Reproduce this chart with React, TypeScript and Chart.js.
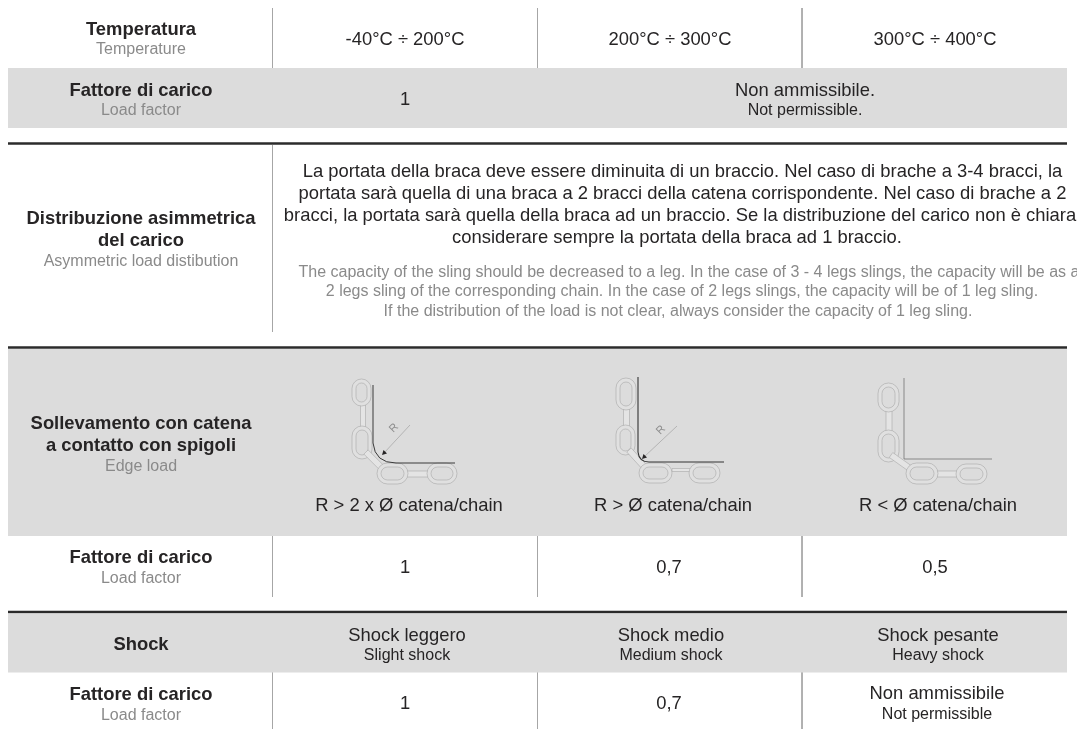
import React, { useEffect, useRef } from "react";
import { Chart, registerables } from "chart.js";

Chart.register(...registerables);

// ---- table content ----
const rowHeads = [
  ["Temperatura", "Temperature"],
  ["Fattore di carico", "Load factor"],
  ["Distribuzione asimmetrica", "del carico", "Asymmetric load distibution"],
  ["Sollevamento con catena", "a contatto con spigoli", "Edge load"],
  ["Fattore di carico", "Load factor"],
  ["Shock"],
  ["Fattore di carico", "Load factor"],
];
const temperatures = ["-40°C ÷ 200°C", "200°C ÷ 300°C", "300°C ÷ 400°C"];
const tempFactor = "1";
const notPermissibleIt = "Non ammissibile.";
const notPermissibleEn = "Not permissible.";
const asymIt = [
  "La portata della braca deve essere diminuita di un braccio. Nel caso di brache a 3-4 bracci, la",
  "portata sarà quella di una braca a 2 bracci della catena corrispondente. Nel caso di brache a 2",
  "bracci, la portata sarà quella della braca ad un braccio. Se la distribuzione del carico non è chiara",
  "considerare sempre la portata della braca ad 1 braccio.",
];
const asymEn = [
  "The capacity of the sling should be decreased to a leg. In the case of 3 - 4 legs slings, the capacity will be as a",
  "2 legs sling of the corresponding chain. In the case of 2 legs slings, the capacity will be of 1 leg sling.",
  "If the distribution of the load is not clear, always consider the capacity of 1 leg sling.",
];
const edgeLabels = ["R > 2 x Ø catena/chain", "R > Ø catena/chain", "R < Ø catena/chain"];
const edgeFactors = ["1", "0,7", "0,5"];
const shockIt = ["Shock leggero", "Shock medio", "Shock pesante"];
const shockEn = ["Slight shock", "Medium shock", "Heavy shock"];
const shockFactors = ["1", "0,7"];
const shockLast = ["Non ammissibile", "Not permissible"];

// ---- layout, in table units ----
const L = 8, R = 1067;
const bands: [number, number][] = [[68, 128], [349, 536], [614, 672.5]];
const heavyRules = [143.5, 347.5, 612];
const vRules: [number, number, number][] = [
  [272.5, 8, 128], [537.5, 8, 128], [802, 8, 68],
  [272.5, 145, 332],
  [272.5, 349, 597], [537.5, 349, 597], [802, 349, 597],
  [272.5, 614, 729], [537.5, 614, 729], [802, 614, 729],
];

const BLACK = "#262425", GRAY = "#8a8a8a", BAND = "#dcdcdc", VLINE = "#a6a6a6";
const FONT = '"Liberation Sans", Arial, sans-serif';
const MAIN = 18.4, SUB = 16;

const seg = (pts: number[][], color: string, width: number, fillTo?: number) => ({
  data: pts.map(([x, y]) => ({ x, y })),
  borderColor: color,
  borderWidth: width,
  backgroundColor: color,
  pointRadius: 0,
  showLine: true,
  fill: fillTo === undefined ? false : { value: fillTo },
});

const tablePlugin = {
  id: "tablePlugin",
  afterDatasetsDraw(chart: any) {
    const c: CanvasRenderingContext2D = chart.ctx;
    const X = (v: number) => chart.scales.x.getPixelForValue(v);
    const Y = (v: number) => chart.scales.y.getPixelForValue(v);
    const text = (s: string, x: number, y: number, size: number, color: string, bold = false) => {
      c.font = `${bold ? "bold " : ""}${size}px ${FONT}`;
      c.fillStyle = color;
      c.textAlign = "center";
      c.textBaseline = "alphabetic";
      c.fillText(s, X(x), Y(y));
    };
    const head = (lines: string[], ys: number[]) => {
      lines.forEach((s, i) => {
        const sub = i === lines.length - 1 && lines.length > 1;
        text(s, 141, ys[i], sub ? SUB : MAIN, sub ? GRAY : BLACK, !sub);
      });
    };
    c.save();

    head(rowHeads[0], [35, 54]);
    head(rowHeads[1], [96, 115]);
    head(rowHeads[2], [224, 246, 266]);
    head(rowHeads[3], [429, 451, 471]);
    head(rowHeads[4], [563, 583]);
    text(rowHeads[5][0], 141, 650, MAIN, BLACK, true);
    head(rowHeads[6], [700, 720]);

    const cx = [405, 670, 935];
    temperatures.forEach((s, i) => text(s, cx[i], 45, MAIN, BLACK));
    text(tempFactor, 405, 105, MAIN, BLACK);
    text(notPermissibleIt, 805, 96, MAIN, BLACK);
    text(notPermissibleEn, 805, 115, SUB, BLACK);

    const itX = [682.5, 682.5, 680, 677];
    [177, 199, 221, 243].forEach((y, i) => text(asymIt[i], itX[i], y, MAIN, BLACK));
    const enX = [689, 682, 678];
    [277, 296, 316].forEach((y, i) => text(asymEn[i], enX[i], y, SUB, GRAY));

    const edgeX = [409, 673, 938];
    edgeLabels.forEach((s, i) => text(s, edgeX[i], 511, MAIN, BLACK));
    [405, 669, 935].forEach((x, i) => text(edgeFactors[i], x, 573, MAIN, BLACK));
    const shockX = [407, 671, 938];
    shockIt.forEach((s, i) => text(s, shockX[i], 641, MAIN, BLACK));
    shockEn.forEach((s, i) => text(s, shockX[i], 660, SUB, BLACK));
    shockFactors.forEach((s, i) => text(s, [405, 669][i], 709, MAIN, BLACK));
    text(shockLast[0], 937, 699, MAIN, BLACK);
    text(shockLast[1], 937, 719, SUB, BLACK);

    // chain icons
    const OUT = "#a8a8a8";
    const link = (x0: number, y0: number, x1: number, y1: number) => {
      const w = x1 - x0, h = y1 - y0;
      const r = Math.min(w, h) / 2;
      c.fillStyle = "#e0e0e0";
      c.strokeStyle = OUT;
      c.lineWidth = 0.6;
      c.beginPath();
      c.roundRect(X(x0), Y(y0), w, h, r);
      c.fill();
      c.stroke();
      const g = 4;
      c.fillStyle = BAND;
      c.beginPath();
      c.roundRect(X(x0 + g), Y(y0 + g), w - 2 * g, h - 2 * g, Math.max(r - g, 1));
      c.fill();
      c.stroke();
    };
    const bar = (x0: number, y0: number, x1: number, y1: number, w: number) => {
      const a = Math.atan2(y1 - y0, x1 - x0);
      const nx = (Math.sin(a) * w) / 2, ny = (-Math.cos(a) * w) / 2;
      c.fillStyle = "#e4e4e4";
      c.strokeStyle = OUT;
      c.lineWidth = 0.6;
      c.beginPath();
      c.moveTo(X(x0 + nx), Y(y0 + ny));
      c.lineTo(X(x1 + nx), Y(y1 + ny));
      c.lineTo(X(x1 - nx), Y(y1 - ny));
      c.lineTo(X(x0 - nx), Y(y0 - ny));
      c.closePath();
      c.fill();
      c.stroke();
    };
    const stroke = (pts: (c: CanvasRenderingContext2D) => void, w: number, col: string) => {
      c.strokeStyle = col;
      c.lineWidth = w;
      c.beginPath();
      pts(c);
      c.stroke();
    };
    const radiusMark = (x1: number, y1: number, x2: number, y2: number, rx: number, ry: number) => {
      stroke((k) => {
        k.moveTo(X(x1), Y(y1));
        k.lineTo(X(x2), Y(y2));
      }, 0.5, "#8a8a8a");
      c.fillStyle = BLACK;
      c.beginPath();
      c.moveTo(X(x2 - 2), Y(y2 + 2));
      c.lineTo(X(x2 + 3), Y(y2 + 0.5));
      c.lineTo(X(x2 - 0.5), Y(y2 - 3));
      c.closePath();
      c.fill();
      c.save();
      c.translate(X(rx), Y(ry));
      c.rotate(-Math.PI / 4);
      c.font = `11px ${FONT}`;
      c.fillStyle = "#8e8e8e";
      c.textAlign = "center";
      c.textBaseline = "middle";
      c.fillText("R", 0, 0);
      c.restore();
    };

    // R > 2x
    bar(363, 403, 363, 428, 5);
    link(352, 379, 371, 406);
    link(352, 426, 372, 459);
    bar(366, 452, 386, 472, 6);
    bar(405, 474, 430, 474, 6);
    link(377, 463, 408, 484);
    link(427, 463, 457, 484);
    stroke((k) => {
      k.moveTo(X(373), Y(385));
      k.lineTo(X(373), Y(443));
      k.quadraticCurveTo(X(375), Y(463), X(396), Y(463));
      k.lineTo(X(455), Y(463));
    }, 1, "#3a3a3a");
    radiusMark(410, 425, 384, 453, 394, 428);

    // R > Ø
    bar(626.5, 403, 626.5, 430, 6);
    link(616, 378, 636, 410);
    link(616, 425, 635, 455);
    bar(629, 450, 649, 472, 6);
    bar(672, 470, 694, 470, 3);
    link(639, 463, 672, 483);
    link(689, 463, 720, 483);
    stroke((k) => {
      k.moveTo(X(638), Y(377));
      k.lineTo(X(638), Y(452));
      k.quadraticCurveTo(X(639), Y(462), X(649), Y(462));
      k.lineTo(X(724), Y(462));
    }, 1.1, "#333");
    radiusMark(677, 426, 644, 457, 661, 430);

    // R < Ø
    bar(889, 407, 889, 435, 6);
    link(878, 383, 899, 412);
    link(878, 430, 899, 462);
    bar(891, 455, 915, 472, 6);
    bar(937, 474, 960, 474, 6);
    link(906, 463, 938, 484);
    link(956, 464, 987, 484);
    stroke((k) => {
      k.moveTo(X(904), Y(378));
      k.lineTo(X(904), Y(459));
      k.lineTo(X(992), Y(459));
    }, 0.7, "#666");
    c.restore();
  },
};

export default function App() {
  const ref = useRef<HTMLCanvasElement>(null);
  useEffect(() => {
    const datasets: any[] = [
      ...bands.map(([a, b]) => seg([[L, a], [R, a]], BAND, 0, b)),
      ...vRules.map(([x, a, b]) => seg([[x, a], [x, b]], VLINE, 1)),
      ...heavyRules.map((y) => seg([[L, y], [R, y]], "#2b2b2b", 2.5)),
    ];
    const chart = new Chart(ref.current!, {
      type: "scatter",
      data: { datasets },
      options: {
        animation: false,
        responsive: false,
        devicePixelRatio: 1,
        layout: { padding: 0 },
        plugins: { legend: { display: false }, tooltip: { enabled: false } },
        scales: {
          x: { type: "linear", min: 0, max: 1077, display: false },
          y: { type: "linear", min: 0, max: 729, reverse: true, display: false },
        },
      },
      plugins: [tablePlugin],
    } as any);
    return () => chart.destroy();
  }, []);
  return (
    <canvas
      ref={ref}
      width={1077}
      height={729}
      style={{ position: "fixed", left: 0, top: 0, width: 1077, height: 729, display: "block" }}
    />
  );
}
